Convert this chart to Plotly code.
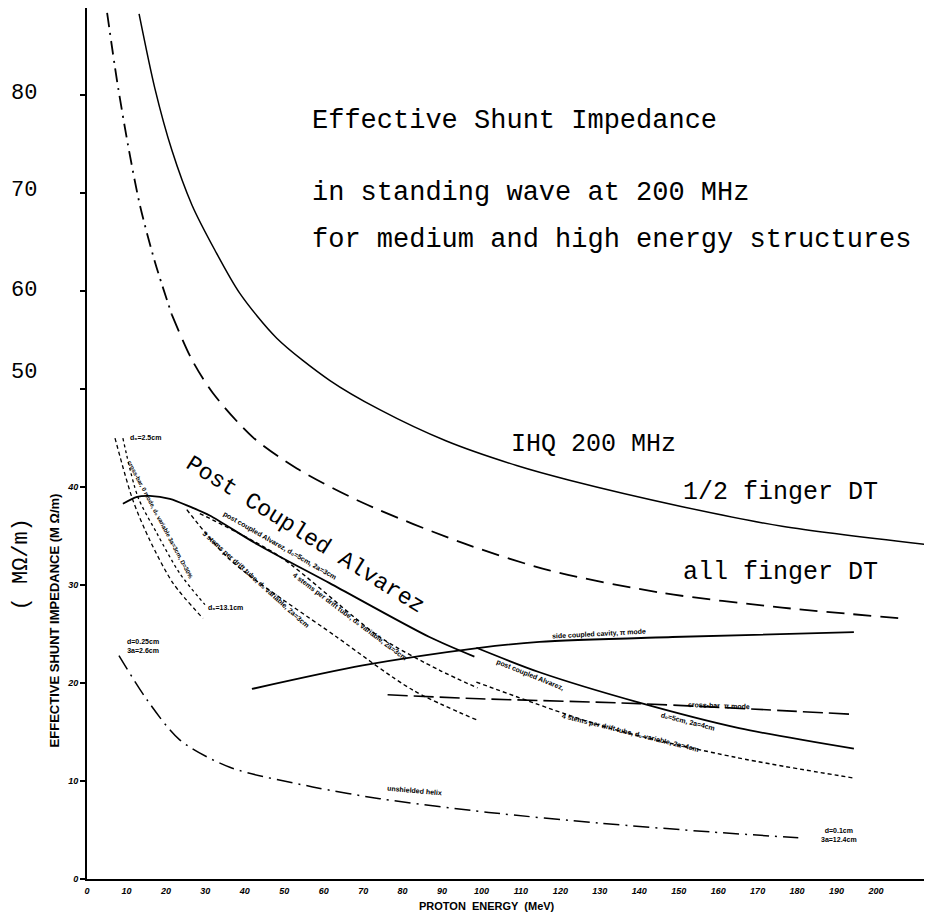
import plotly.graph_objects as go

# ---------------- data (proton energy MeV, shunt impedance) ----------------
ihq_x = [13.2, 17.2, 21.5, 26.6, 32.4, 38.7, 48.1, 61.5, 74.2, 91.1, 108.9, 122.3, 150.9, 176.2, 213.4]
ihq_y = [88.3, 80.7, 74.4, 68.8, 64.2, 59.8, 55.2, 50.9, 47.9, 44.7, 42.2, 40.7, 38.0, 36.0, 34.1]

allf_top_x = [5.1, 7.6, 10.4, 13.4, 17.2, 21.5]
allf_top_y = [88.4, 81.5, 74.9, 68.8, 63.0, 57.6]
allf_x = [21.5, 26.6, 31.9, 42.0, 53.2, 69.9, 95.2, 117.2, 145.8, 176.2, 206.6]
allf_y = [57.6, 53.0, 49.6, 45.1, 41.9, 38.4, 34.3, 31.5, 29.2, 27.7, 26.6]

pca1_x = [9.1, 12.7, 15.9, 21.0, 26.1, 31.1, 43.0, 61.5, 86.8, 98.2]
pca1_y = [38.3, 39.0, 39.1, 38.8, 38.0, 37.1, 34.2, 30.2, 24.7, 22.7]
pca2_x = [98.7, 114.7, 140.0, 165.3, 194.4]
pca2_y = [23.6, 21.1, 18.0, 15.4, 13.3]

scc_x = [41.8, 69.9, 99.5, 114.7, 148.4, 194.4]
scc_y = [19.4, 21.8, 23.6, 24.2, 24.7, 25.2]

crossbar_pi_x = [76.2, 99.5, 140.0, 194.4]
crossbar_pi_y = [18.8, 18.4, 17.9, 16.8]

stems3_x = [25.3, 36.2, 63.3, 82.5, 99.0]
stems3_y = [37.7, 32.6, 24.7, 19.3, 16.2]
stems4a_x = [28.6, 48.9, 74.2, 89.4, 99.0]
stems4a_y = [37.3, 32.9, 24.7, 21.3, 19.5]
stems4b_x = [98.7, 131.6, 164.6, 194.4]
stems4b_y = [20.1, 15.5, 12.4, 10.3]

cb0a_x = [7.1, 11.6, 15.9, 21.8, 29.4]
cb0a_y = [45.0, 38.7, 34.6, 30.2, 26.6]
cb0b_x = [9.1, 12.9, 17.7, 23.5, 29.9]
cb0b_y = [45.0, 39.0, 35.3, 31.2, 28.0]

helix_x = [8.1, 15.2, 23.5, 36.2, 57.2, 74.2, 101.8, 129.9, 158.2, 180.3]
helix_y = [22.8, 18.3, 14.2, 11.4, 9.4, 8.2, 6.8, 5.7, 4.8, 4.2]

x_ticks = list(range(0, 201, 10))
y_ticks = [0, 10, 20, 30, 40]
mohm_labels = ["80", "70", "60", "50"]

# ---------------- figure ----------------
fig = go.Figure()

def add(x, y, dash="solid", width=1.6):
    fig.add_trace(go.Scatter(x=x, y=y, mode="lines", showlegend=False, hoverinfo="skip",
                             line=dict(color="black", width=width, dash=dash, shape="spline", smoothing=0.8)))

add(ihq_x, ihq_y, "solid", 1.5)
add(allf_top_x, allf_top_y, "14px,6px,2px,6px", 1.8)
add(allf_x, allf_y, "18px,9px", 1.8)
add(pca1_x, pca1_y, "solid", 1.8)
add(pca2_x, pca2_y, "solid", 1.8)
add(scc_x, scc_y, "solid", 1.8)
add(crossbar_pi_x, crossbar_pi_y, "20px,6px", 1.6)
add(stems3_x, stems3_y, "4px,3px", 1.4)
add(stems4a_x, stems4a_y, "4px,3px", 1.4)
add(stems4b_x, stems4b_y, "4px,3px", 1.4)
add(cb0a_x, cb0a_y, "4px,3px", 1.3)
add(cb0b_x, cb0b_y, "3px,3px", 1.3)
add(helix_x, helix_y, "16px,6px,2px,6px", 1.5)

MONO = "Liberation Mono"
SANS = "Liberation Sans"

def note(text, x, y, size=7, angle=0, font=SANS, bold=True, xanchor="center", xref="x", yref="y"):
    fig.add_annotation(text=("<b>%s</b>" % text) if bold else text, x=x, y=y, xref=xref, yref=yref,
                       showarrow=False, textangle=angle, xanchor=xanchor, yanchor="middle",
                       font=dict(family=font, size=size, color="black"))

# Title
note("Effective Shunt Impedance", 56.5, 77.4, 27, 0, MONO, False, "left")
note("in standing wave at 200 MHz", 56.5, 70.0, 27, 0, MONO, False, "left")
note("for medium and high energy structures", 56.5, 65.2, 27, 0, MONO, False, "left")

# Big curve labels
note("IHQ 200 MHz", 128.4, 44.3, 25, 0, MONO, False)
note("1/2 finger DT", 175.7, 39.4, 25, 0, MONO, False)
note("all finger DT", 175.7, 31.3, 25, 0, MONO, False)
note("Post Coupled Alvarez", 55.2, 35.1, 23, 32, MONO, False)

# Small labels
note("d₀=2.5cm", 14.9, 45.1, 7)
note("cross-bar, 0 mode, d₀ variable 3a=3cm, D=30%", 18.5, 36.6, 6, 62)
note("d₀=13.1cm", 35.2, 27.7, 7)
note("d=0.25cm<br>3a=2.6cm", 14.2, 23.8, 7)
note("post coupled Alvarez, d₀=5cm, 2a=3cm", 48.9, 34.0, 7, 30)
note("3 stems per drift tube, d₀ variable, 2a=3cm", 42.8, 30.5, 7, 42)
note("4 stems per drift tube, d₀ variable, 2a=3cm", 66.6, 26.7, 7, 37)
note("side coupled cavity, π mode", 129.9, 25.0, 7, -3)
note("post coupled Alvarez,", 112.2, 20.8, 7, 22)
note("cross-bar  π mode", 160.3, 17.7, 7, 2)
note("d₀=5cm, 2a=4cm", 152.2, 16.0, 7, 14)
note("4 stems per drift tube, d₀ variable, 2a=4cm", 137.7, 14.9, 7, 14)
note("unshielded helix", 83.0, 9.0, 7, 5)
note("d=0.1cm<br>3a=12.4cm", 190.6, 4.5, 7)

# Overlay MΩ/m scale labels
for lab, yy in zip(mohm_labels, [80.2, 70.3, 60.1, 51.7]):
    note(lab, -0.074, yy, 22, 0, MONO, False, "center", xref="paper")
note("( MΩ/m)", -0.077, 32.1, 22, -90, MONO, False, "center", xref="paper")
note("EFFECTIVE SHUNT IMPEDANCE (M Ω/m)", -0.039, 26.4, 13, -90, SANS, True, "center", xref="paper")
note("PROTON  ENERGY  (MeV)", 101.3, -0.031, 11, 0, SANS, True, "center", yref="paper")

# The page body adds an 8px margin, so the figure is sized to fit the 932x912 window
fig.update_layout(
    width=924, height=904,
    margin=dict(l=79, r=0, t=0, b=33),
    plot_bgcolor="white", paper_bgcolor="white",
    xaxis=dict(range=[0, 214.2], showgrid=False, zeroline=False, showline=True, linecolor="black",
               linewidth=2, tickvals=x_ticks, ticktext=[str(v) for v in x_ticks], ticks="",
               ticklabelstandoff=2,
               tickfont=dict(family=SANS, size=9, color="black", style="italic", weight="bold")),
    yaxis=dict(range=[0, 88.9], showgrid=False, zeroline=False, showline=True, linecolor="black",
               linewidth=2, tickvals=y_ticks + [50, 60, 70, 80],
               ticktext=[str(v) for v in y_ticks] + ["", "", "", ""], ticks="outside", ticklen=5,
               tickcolor="black", tickwidth=1.5,
               tickfont=dict(family=SANS, size=9, color="black", style="italic", weight="bold")),
)

fig.write_html("out.html")
